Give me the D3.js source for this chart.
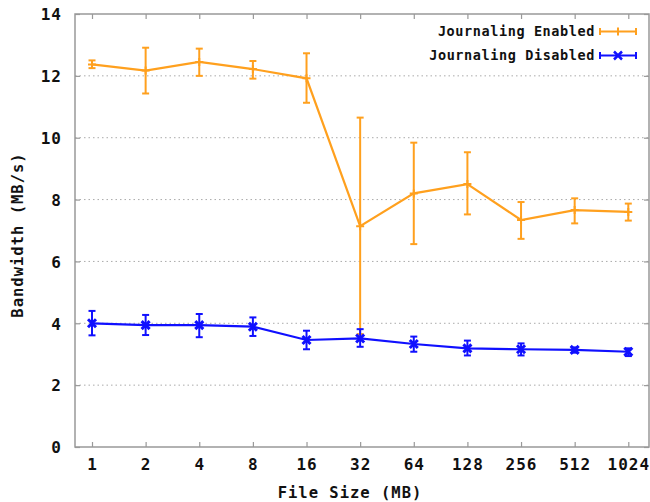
<!DOCTYPE html>
<html>
<head>
<meta charset="utf-8">
<script src="https://cdn.jsdelivr.net/npm/d3@7"></script>
<style>
html,body{margin:0;padding:0;background:#fff;}
svg{display:block;}
text{font-family:"DejaVu Sans Mono",monospace;font-weight:bold;fill:#111;}
</style>
</head>
<body>
<svg id="chart" width="650" height="502"></svg>
<script>
const categories = ["1","2","4","8","16","32","64","128","256","512","1024"];
const enabledMean = [12.37,12.17,12.45,12.22,11.92,7.14,8.20,8.50,7.34,7.66,7.60];
const enabledHigh = [12.50,12.91,12.88,12.48,12.73,10.65,9.84,9.53,7.92,8.04,7.87];
const enabledLow  = [12.25,11.43,12.00,11.91,11.13,3.65,6.56,7.52,6.73,7.23,7.32];
const disabledMean = [4.00,3.94,3.94,3.89,3.46,3.51,3.33,3.19,3.16,3.14,3.08];
const disabledHigh = [4.40,4.27,4.30,4.19,3.76,3.81,3.57,3.44,3.35,3.22,3.19];
const disabledLow  = [3.61,3.62,3.55,3.59,3.16,3.24,3.08,2.96,2.96,3.05,2.94];
const yTicks = [0,2,4,6,8,10,12,14];
const seriesNames = ["Journaling Enabled","Journaling Disabled"];

const svg = d3.select("#chart");
const pLeft = 75, pRight = 649, pTop = 14, pBottom = 447;

const x = d3.scalePoint().domain(categories).range([92, 628.3]);
const y = d3.scaleLinear().domain([0,14]).range([pBottom, pTop]);

// grid
svg.append("g").selectAll("line").data(yTicks.filter(t => t > 0 && t < 14)).join("line")
  .attr("x1", pLeft).attr("x2", pRight)
  .attr("y1", d => y(d)).attr("y2", d => y(d))
  .attr("stroke", "#aaa").attr("stroke-width", 1).attr("stroke-dasharray", "1.5,3");

// frame
svg.append("rect").attr("x", pLeft).attr("y", pTop).attr("width", pRight-pLeft).attr("height", pBottom-pTop)
  .attr("fill", "none").attr("stroke", "#999").attr("stroke-width", 1.5);

// axes with inward ticks
const gb = svg.append("g").attr("transform", `translate(0,${pBottom})`)
  .call(d3.axisBottom(x).tickSizeInner(-5).tickSizeOuter(0).tickPadding(12));
const gt = svg.append("g").attr("transform", `translate(0,${pTop})`)
  .call(d3.axisTop(x).tickSizeInner(-5).tickSizeOuter(0).tickFormat(""));
const gl = svg.append("g").attr("transform", `translate(${pLeft},0)`)
  .call(d3.axisLeft(y).tickValues(yTicks).tickSizeInner(-5).tickSizeOuter(0).tickPadding(13));
const gr = svg.append("g").attr("transform", `translate(${pRight},0)`)
  .call(d3.axisRight(y).tickValues(yTicks).tickSizeInner(-5).tickSizeOuter(0).tickFormat(""));
[gb,gt,gl,gr].forEach(g => {
  g.select(".domain").remove();
  g.selectAll(".tick line").attr("stroke", "#999").attr("stroke-width", 1.2);
});
gb.selectAll(".tick text").attr("font-size", 16).attr("font-family", "'DejaVu Sans Mono',monospace")
  .attr("font-weight", "bold").attr("fill", "#111").attr("letter-spacing", 1);
gl.selectAll(".tick text").attr("font-size", 16).attr("font-family", "'DejaVu Sans Mono',monospace")
  .attr("font-weight", "bold").attr("fill", "#111").attr("letter-spacing", 1).attr("dy", "0.36em");

// axis labels
svg.append("text").attr("x", 350).attr("y", 498).attr("text-anchor", "middle")
  .attr("font-size", 15.5).attr("letter-spacing", 1).text("File Size (MB)");
svg.append("text").attr("transform", "translate(23,235) rotate(-90)").attr("text-anchor", "middle")
  .attr("font-size", 15.5).attr("letter-spacing", 1).text("Bandwidth (MB/s)");

function drawSeries(mean, lo, hi, color, marker) {
  const g = svg.append("g");
  const line = d3.line().x((d,i) => x(categories[i])).y(d => y(d));
  g.append("path").datum(mean).attr("d", line).attr("fill", "none")
    .attr("stroke", color).attr("stroke-width", 2.2);
  categories.forEach((c, i) => {
    const cx = x(c);
    g.append("line").attr("x1", cx).attr("x2", cx).attr("y1", y(lo[i])).attr("y2", y(hi[i]))
      .attr("stroke", color).attr("stroke-width", 2);
    [lo[i], hi[i]].forEach(v => {
      g.append("line").attr("x1", cx-3.5).attr("x2", cx+3.5).attr("y1", y(v)).attr("y2", y(v))
        .attr("stroke", color).attr("stroke-width", 2);
    });
    const cy = y(mean[i]);
    if (marker === "x") {
      g.append("path").attr("d", `M${cx-4},${cy-4}L${cx+4},${cy+4}M${cx-4},${cy+4}L${cx+4},${cy-4}`)
        .attr("stroke", color).attr("stroke-width", 3);
    } else {
      g.append("path").attr("d", `M${cx-4},${cy}L${cx+4},${cy}M${cx},${cy-4}L${cx},${cy+4}`)
        .attr("stroke", color).attr("stroke-width", 2);
    }
  });
}
const colors = ["#ffa01e", "#1010ff"];
drawSeries(enabledMean, enabledLow, enabledHigh, colors[0], "+");
drawSeries(disabledMean, disabledLow, disabledHigh, colors[1], "x");

// legend
const legY = [31.5, 55.5];
seriesNames.forEach((name, i) => {
  const ly = legY[i];
  svg.append("text").attr("x", 595).attr("y", ly).attr("dy", "0.35em").attr("text-anchor", "end")
    .attr("font-size", 13.5).attr("letter-spacing", 0.6).text(name);
  const c = colors[i];
  svg.append("line").attr("x1", 600).attr("x2", 636).attr("y1", ly).attr("y2", ly).attr("stroke", c).attr("stroke-width", 2);
  [600, 636].forEach(xx => svg.append("line").attr("x1", xx).attr("x2", xx).attr("y1", ly-3.5).attr("y2", ly+3.5).attr("stroke", c).attr("stroke-width", 2));
  if (i === 0) {
    svg.append("line").attr("x1", 618).attr("x2", 618).attr("y1", ly-4).attr("y2", ly+4).attr("stroke", c).attr("stroke-width", 2);
  } else {
    svg.append("path").attr("d", `M614,${ly-4}L622,${ly+4}M614,${ly+4}L622,${ly-4}`).attr("stroke", c).attr("stroke-width", 2.5);
  }
});
</script>
</body>
</html>
